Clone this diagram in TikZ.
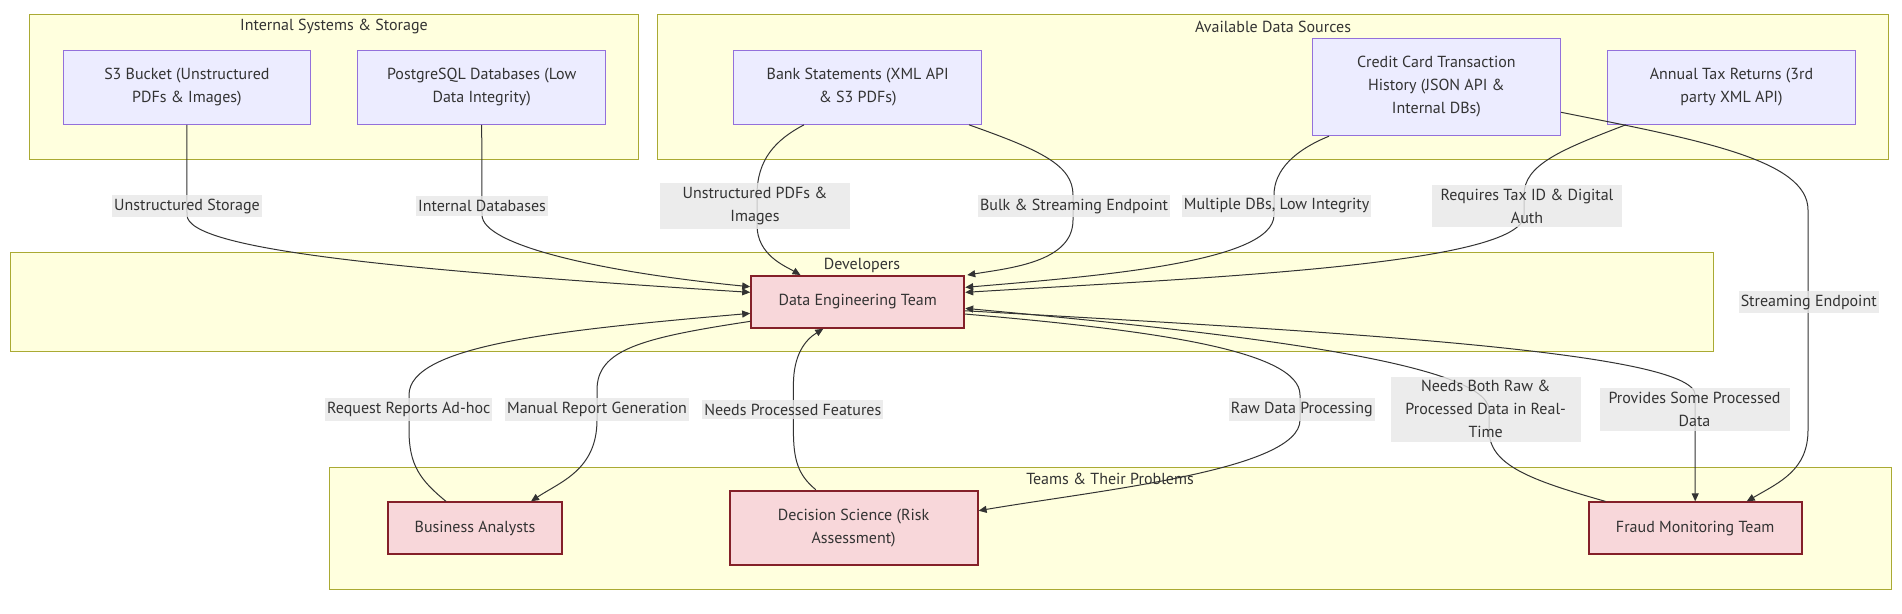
\documentclass[tikz,border=0pt]{standalone}
\usepackage{fontspec}
\setmainfont{PT Sans}
\usetikzlibrary{arrows.meta}
\definecolor{clfill}{HTML}{FFFFDE}
\definecolor{clline}{HTML}{AAAA33}
\definecolor{srcfill}{HTML}{ECECFF}
\definecolor{srcline}{HTML}{9370DB}
\definecolor{teamfill}{HTML}{F8D7DA}
\definecolor{teamline}{HTML}{842029}
\definecolor{ink}{HTML}{333333}
\definecolor{lblfill}{HTML}{E8E8E8}
\begin{document}
\begin{tikzpicture}[x=1pt,y=-1pt,
  every node/.style={font=\fontsize{16}{23}\selectfont, text=ink},
  cluster/.style={draw=clline, fill=clfill, line width=1pt},
  ctitle/.style={inner sep=0pt},
  src/.style={draw=srcline, fill=srcfill, line width=1pt, align=center, inner sep=0pt},
  team/.style={draw=teamline, fill=teamfill, line width=2pt, align=center, inner sep=0pt},
  conn/.style={draw=ink, line width=1pt, -{Triangle[length=8pt,width=7pt]}},
  lbl/.style={fill=lblfill, fill opacity=0.8, text opacity=1, inner xsep=2pt, inner ysep=4pt, align=center},
  widelbl/.style={lbl, minimum width=190pt},
]
\useasboundingbox[fill=white] (0,0) rectangle (1902,613);

% clusters
\draw[cluster] (29.5,14.3) rectangle (638.5,159);
\draw[cluster] (657.5,14.3) rectangle (1888.4,159);
\draw[cluster] (10.5,252.3) rectangle (1713.9,351);
\draw[cluster] (329.6,467.7) rectangle (1891.5,589.3);
\node[ctitle] (tint) at (334,26.7) {Internal Systems \& Storage};
\node[ctitle] (tavail) at (1273,26.7) {Available Data Sources};
\node[ctitle] (tdev) at (862,265) {Developers};
\node[ctitle] (tteam) at (1110,479.3) {Teams \& Their Problems};

% nodes
\node[src, minimum width=247.5pt, minimum height=74.3pt] (s3) at (186.9,87.2) {S3 Bucket (Unstructured\\PDFs \& Images)};
\node[src, minimum width=248pt, minimum height=74.3pt] (pg) at (481.7,87.2) {PostgreSQL Databases (Low\\Data Integrity)};
\node[src, minimum width=248pt, minimum height=74.3pt] (bank) at (857.7,87.2) {Bank Statements (XML API\\\& S3 PDFs)};
\node[src, minimum width=248.3pt, minimum height=97.4pt] (cc) at (1436.4,87) {Credit Card Transaction\\History (JSON API \&\\Internal DBs)};
\node[src, minimum width=248.3pt, minimum height=74.3pt] (tax) at (1731.5,87.2) {Annual Tax Returns (3rd\\party XML API)};
\node[team, minimum width=213pt, minimum height=51.7pt] (de) at (857.7,301.9) {Data Engineering Team};
\node[team, minimum width=174pt, minimum height=51.7pt] (ba) at (475,528.2) {Business Analysts};
\node[team, minimum width=248pt, minimum height=74.6pt] (ds) at (853.6,528) {Decision Science (Risk\\Assessment)};
\node[team, minimum width=213pt, minimum height=51.7pt] (fraud) at (1695.2,528.2) {Fraud Monitoring Team};

% connectors
\draw[conn] (s3.south) -- (187,215) .. controls (187,250) and (400,270) .. ([yshift=-17.3pt]de.north west);
\draw[conn] (pg.south) -- (482,215) .. controls (482,245) and (600,272) .. ([yshift=-11.7pt]de.north west);
\draw[conn] ([xshift=-29pt]ba.north) .. controls (420,480) and (409,465) .. (409,430) -- (409,395) .. controls (409,345) and (560,330) .. ([yshift=-38.3pt]de.north west);
\draw[conn] ([yshift=-46.3pt]de.north west) .. controls (640,338) and (597,350) .. (597,390) -- (597,420) .. controls (597,470) and (560,482) .. ([xshift=56pt]ba.north);
\draw[conn] ([xshift=-37.8pt]ds.north) .. controls (798,475) and (793.4,460) .. (793.4,430) -- (793.4,385) .. controls (793.4,355) and (805,340) .. ([xshift=-34.4pt]de.south);
\draw[conn] ([xshift=-53.7pt]bank.south) .. controls (775,140) and (757,160) .. (757,195) -- (757,225) .. controls (757,255) and (785,266) .. ([xshift=-57.2pt]de.north);
\draw[conn] ([xshift=111.3pt]bank.south) .. controls (1040,150) and (1073,165) .. (1073,195) -- (1073,220) .. controls (1073,262) and (1010,268) .. ([xshift=2pt]de.north east);
\draw[conn] ([xshift=-107.4pt]cc.south) .. controls (1295,150) and (1274,170) .. (1274,195) -- (1274,215) .. controls (1274,262) and (1100,276) .. ([yshift=-12.3pt]de.north east);
\draw[conn] ([xshift=-105.8pt]tax.south) .. controls (1560,150) and (1524,165) .. (1524,195) -- (1524,215) .. controls (1524,265) and (1200,278) .. ([yshift=-17.3pt]de.north east);
\draw[conn] ([yshift=-25.3pt]cc.east) .. controls (1700,140) and (1808,160) .. (1808,210) -- (1808,430) .. controls (1808,470) and (1780,482) .. ([xshift=51.5pt]fraud.north);
\draw[conn] ([xshift=-89.8pt]fraud.north) .. controls (1530,480) and (1489,465) .. (1489,430) -- (1489,410) .. controls (1489,360) and (1200,330) .. ([yshift=-33.3pt]de.north east);
\draw[conn] ([yshift=-35.7pt]de.north east) .. controls (1300,330) and (1695.2,350) .. (1695.2,395) -- (fraud.north);
\draw[conn] ([yshift=-39pt]de.north east) .. controls (1150,330) and (1300,350) .. (1300,395) -- (1300,420) .. controls (1300,470) and (1100,490) .. ([yshift=17.3pt]ds.east);

% edge labels
\node[lbl] (l1) at (187,206) {Unstructured Storage};
\node[lbl] (l2) at (482,206) {Internal Databases};
\node[widelbl] (l3) at (755,206) {Unstructured PDFs \&\\Images};
\node[lbl] (l4) at (1074,206) {Bulk \& Streaming Endpoint};
\node[lbl] (l5) at (1276.6,206) {Multiple DBs, Low Integrity};
\node[widelbl] (l6) at (1527,206) {Requires Tax ID \& Digital\\Auth};
\node[lbl] (l7) at (1808.7,302) {Streaming Endpoint};
\node[lbl] (l8) at (408.7,409.5) {Request Reports Ad-hoc};
\node[lbl] (l9) at (597,409.5) {Manual Report Generation};
\node[lbl] (l10) at (792.8,409.5) {Needs Processed Features};
\node[lbl] (l11) at (1301.8,409.5) {Raw Data Processing};
\node[widelbl] (l12) at (1485.7,409.3) {Needs Both Raw \&\\Processed Data in Real-\\Time};
\node[widelbl] (l13) at (1694.5,409.3) {Provides Some Processed\\Data};
\end{tikzpicture}
\end{document}
